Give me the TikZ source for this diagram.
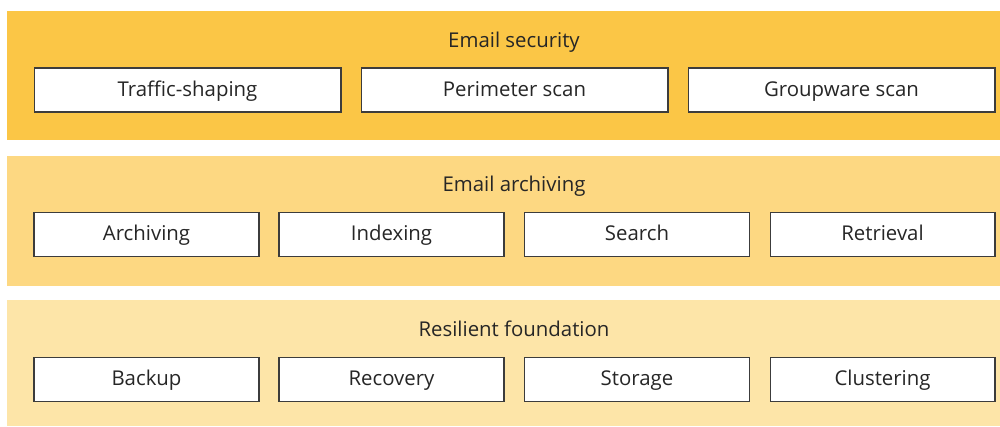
\documentclass[tikz,border=0pt]{standalone}
\usepackage{fontspec}
\setmainfont{Open Sans}
\definecolor{secband}{HTML}{FBC646}
\definecolor{arcband}{HTML}{FDD882}
\definecolor{fndband}{HTML}{FDE5A8}
\definecolor{inkgray}{HTML}{262626}
\tikzset{
  tile/.style={draw=inkgray!90,line width=0.6pt,fill=white,text=inkgray,minimum height=0.88cm,inner sep=0pt,text height=0.72em,text depth=0pt},
  widetile/.style={tile,minimum width=6.14cm},
  narrowtile/.style={tile,minimum width=4.5cm},
  bandtitle/.style={text=inkgray,inner sep=0pt,text height=0.72em,text depth=0pt}
}
\begin{document}
\begin{tikzpicture}[x=0.02cm,y=-0.02cm,font=\fontsize{11.6}{14}\selectfont]
    \useasboundingbox (0,0) rectangle (1000,426);
    \fill[secband] (7,11) rectangle (1000,140);
    \fill[arcband] (7,156) rectangle (1000,286);
    \fill[fndband] (7,300) rectangle (1000,426);
    \node[bandtitle] (security) at (514,41) {Email security};
    \node[widetile] (traffic) at (187.5,90) {Traffic-shaping};
    \node[widetile] (perimeter) at (514.5,90) {Perimeter scan};
    \node[widetile] (groupware) at (841.5,90) {Groupware scan};
    \node[bandtitle] (archiving) at (514,185) {Email archiving};
    \node[narrowtile] (archive) at (146.5,234.5) {Archiving};
    \node[narrowtile] (index) at (391.5,234.5) {Indexing};
    \node[narrowtile] (search) at (637,234.5) {Search};
    \node[narrowtile] (retrieve) at (882.5,234.5) {Retrieval};
    \node[bandtitle] (foundation) at (514,330) {Resilient foundation};
    \node[narrowtile] (backup) at (146.5,379.5) {Backup};
    \node[narrowtile] (recovery) at (391.5,379.5) {Recovery};
    \node[narrowtile] (storage) at (637,379.5) {Storage};
    \node[narrowtile] (cluster) at (882.5,379.5) {Clustering};
\end{tikzpicture}
\end{document}
